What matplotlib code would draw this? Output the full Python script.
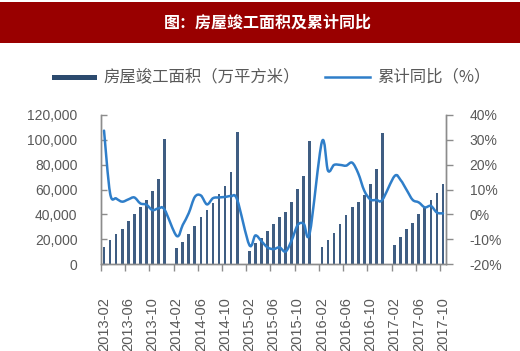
import numpy as np
import pandas as pd
import matplotlib
matplotlib.use("Agg")
import matplotlib.pyplot as plt
from matplotlib.patches import Rectangle
from matplotlib.lines import Line2D
from matplotlib.path import Path
from matplotlib.patches import PathPatch

plt.rcParams['font.family'] = ['Noto Sans CJK SC', 'DejaVu Sans']

# ---------------- data ----------------
months = [p.strftime('%Y-%m') for p in pd.period_range('2013-02', '2017-10', freq='M')]

# completed floor area (10k m2), cumulative; January has no separate release
area_2013 = [14000, 19300, 23900, 28200, 34900, 40300, 45600, 51500, 58800, 68500, 100700]
area_2014 = [12600, 18000, 23900, 30600, 37600, 43500, 48900, 56100, 62800, 74400, 106600]
area_2015 = [10700, 16600, 21200, 26600, 32200, 37600, 41600, 50200, 60100, 71100, 99300]
area_2016 = [14000, 19300, 25200, 31900, 39200, 46200, 50200, 55600, 64400, 76500, 105200]
area_2017 = [15300, 22000, 27900, 33300, 40300, 44800, 51500, 57500, 64400]

# cumulative YoY (%)
yoy_2013 = [33.7, 8.5, 6.4, 5.1, 6.0, 6.8, 4.4, 3.9, 1.7, 2.4, 1.9]
yoy_2014 = [-8.7, -4.3, 0.5, 7.0, 7.6, 4.0, 6.5, 6.8, 7.0, 7.3, 5.9]
yoy_2015 = [-12.3, -8.5, -10.8, -13.3, -14.0, -13.3, -15.0, -10.5, -4.3, -3.8, -7.4]
yoy_2016 = [29.2, 17.6, 19.9, 19.9, 19.6, 20.8, 16.5, 9.5, 6.0, 5.8, 5.9]
yoy_2017 = [15.4, 13.8, 9.8, 5.8, 4.8, 2.8, 3.4, 0.7, 0.4]

tick_labels = ['2013-02', '2013-06', '2013-10', '2014-02', '2014-06', '2014-10',
               '2015-02', '2015-06', '2015-10', '2016-02', '2016-06', '2016-10',
               '2017-02', '2017-06', '2017-10']

title = '图：房屋竣工面积及累计同比'
bar_name = '房屋竣工面积（万平方米）'
line_name = '累计同比（%）'

# assemble with January gaps
area = area_2013 + [np.nan] + area_2014 + [np.nan] + area_2015 + [np.nan] + area_2016 + [np.nan] + area_2017
yoy = yoy_2013 + [np.nan] + yoy_2014 + [np.nan] + yoy_2015 + [np.nan] + yoy_2016 + [np.nan] + yoy_2017
area = np.array(area, dtype=float)
yoy = np.array(yoy, dtype=float)
x = np.arange(len(months))

# ---------------- style ----------------
BAR_C = '#3f5d82'
LINE_C = '#2f7ec9'
GRAY = '#595959'
AX_C = '#8c8c8c'

W, H = 520, 351
fig = plt.figure(figsize=(W / 100, H / 100), dpi=100)
fig.patch.set_facecolor('white')

# title band
fig.add_artist(Rectangle((0, 1 - 43 / H), 1, 41 / H, transform=fig.transFigure,
                         facecolor='#990000', edgecolor='none'))
fig.text(0.515, 1 - 22.5 / H, title, color='white', fontsize=11.5, fontweight='bold',
         ha='center', va='center')

# axes
ax = fig.add_axes([101 / W, 1 - 264 / H, (446 - 101) / W, (264 - 115) / H])
ax2 = ax.twinx()

ax.bar(x, area, width=0.45, color=BAR_C, zorder=2)
ax.set_xlim(-0.5, len(months) - 0.5)
ax.set_ylim(0, 120000)
ax.set_yticks(np.arange(0, 120001, 20000))
ax.set_yticklabels([f'{v:,}' for v in range(0, 120001, 20000)])

# smooth line (Bezier through the actual data points, Excel-style smoothing)
m = ~np.isnan(yoy)
px, py = x[m].astype(float), yoy[m]
verts = [(px[0], py[0])]
codes = [Path.MOVETO]
n = len(px)
for i in range(n - 1):
    p0 = (px[i - 1], py[i - 1]) if i > 0 else (px[i], py[i])
    p1 = (px[i], py[i])
    p2 = (px[i + 1], py[i + 1])
    p3 = (px[i + 2], py[i + 2]) if i + 2 < n else (px[i + 1], py[i + 1])
    c1 = (p1[0] + (p2[0] - p0[0]) / 6, p1[1] + (p2[1] - p0[1]) / 6)
    c2 = (p2[0] - (p3[0] - p1[0]) / 6, p2[1] - (p3[1] - p1[1]) / 6)
    verts += [c1, c2, p2]
    codes += [Path.CURVE4] * 3
ax2.add_patch(PathPatch(Path(verts, codes), facecolor='none', edgecolor=LINE_C,
                        linewidth=1.8, zorder=3, capstyle='round', joinstyle='round'))
ax2.set_ylim(-20, 40)
ax2.set_yticks(np.arange(-20, 41, 10))
ax2.set_yticklabels([f'{v}%' for v in range(-20, 41, 10)])
ax2.set_xlim(-0.5, len(months) - 0.5)

# x ticks: labels at category centres every 4 months, marks at boundaries
ax.set_xticks(x[::4])
ax.set_xticklabels(tick_labels, rotation=90, fontsize=10.5, color=GRAY,
                   family=['Liberation Sans', 'DejaVu Sans'])
ax.set_xticks(np.arange(-0.5, len(months) - 0.5, 4), minor=True)
ax.tick_params(axis='x', which='major', length=0, pad=24)
ax.tick_params(axis='x', which='minor', length=5, color=AX_C, width=1, direction='out')

ax.tick_params(axis='y', direction='in', length=4, color=AX_C, width=1, pad=17,
               labelsize=10, labelcolor=GRAY)
ax2.tick_params(axis='y', direction='out', length=5, color=AX_C, width=1, pad=12,
                labelsize=10, labelcolor=GRAY)
for lab in ax.get_yticklabels() + ax2.get_yticklabels():
    lab.set_family(['Liberation Sans', 'DejaVu Sans'])

for a in (ax, ax2):
    a.spines['top'].set_visible(False)
    for s in ('left', 'right', 'bottom'):
        a.spines[s].set_color(AX_C)
        a.spines[s].set_linewidth(1)
    a.set_facecolor('none')
ax.set_zorder(1)
ax2.set_zorder(2)

# legend (manual, to match the reference layout)
ly = 1 - 77 / H
fig.add_artist(Rectangle((52 / W, ly - 2.5 / H), 45 / W, 5 / H, transform=fig.transFigure,
                         facecolor='#2c4a6e', edgecolor='none'))
fig.text(103 / W, ly, bar_name, fontsize=11.8, color=GRAY, ha='left', va='center')
fig.add_artist(Line2D([325 / W, 370 / W], [ly, ly], transform=fig.transFigure,
                      color=LINE_C, linewidth=1.8))
fig.text(377 / W, ly, line_name, fontsize=11.8, color=GRAY, ha='left', va='center')

fig.savefig('out.png', dpi=100)
